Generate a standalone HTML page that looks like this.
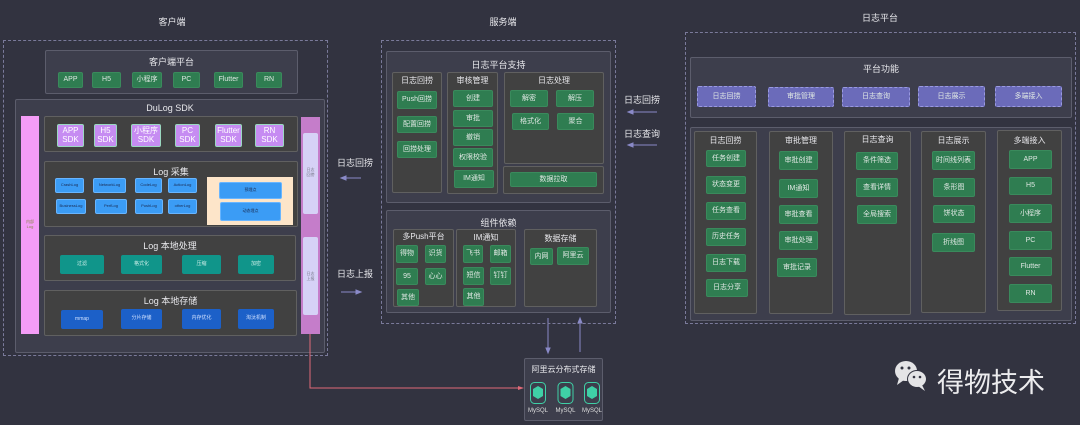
<!DOCTYPE html>
<html><head><meta charset="utf-8"><style>
*{margin:0;padding:0;box-sizing:border-box}
body{width:1080px;height:425px;background:#323340;position:relative;overflow:hidden;font-family:"Liberation Sans","Noto Sans CJK SC",sans-serif;color:#e8e8ec}
.a{position:absolute}
.d{position:absolute;border:1px dashed #7a7a9a}
.p{position:absolute;background:#3d3e4c;border:1px solid #5c5d6c;border-radius:2px}
.k{position:absolute;background:#414141;border:1px solid #606060;border-radius:2px}
.t{position:absolute;font-size:9px;text-align:center;white-space:nowrap}
.g,.s,.bl,.tl,.db,.pu{position:absolute;display:flex;align-items:center;justify-content:center;text-align:center;font-size:7px;color:#e0e8e4;border-radius:2px;line-height:1.1}
.g{background:#2f7d51;border:1px solid #3a8a5c}
.s{background:#c68cf2;border:1px solid #9ad8c0;font-size:8px;color:#fff}
.bl{background:#3b9cf5;border:1px solid #68b5ff;font-size:4px;color:#1a2a50}
.tl{background:#10958a;font-size:5px;color:#cceee8}
.db{background:#1c60c8;font-size:5px;color:#cfe0ff}
.pu{background:#6b6bba;border:1px dashed #9a9ae0;font-size:7px}
.h{font-size:8px}
</style></head><body>
<!-- titles -->
<div class="t" style="left:150px;top:15px;width:44px">客户端</div>
<div class="t" style="left:480px;top:15px;width:46px">服务端</div>
<div class="t" style="left:855px;top:11px;width:50px">日志平台</div>

<!-- client -->
<div class="d" style="left:3px;top:40px;width:325px;height:316px"></div>
<div class="p" style="left:45px;top:50px;width:253px;height:44px"></div>
<div class="t" style="left:45px;top:55px;width:253px">客户端平台</div>
<div class="g" style="left:58px;top:72px;width:25px;height:16px">APP</div>
<div class="g" style="left:92px;top:72px;width:29px;height:16px">H5</div>
<div class="g" style="left:132px;top:72px;width:30px;height:16px">小程序</div>
<div class="g" style="left:173px;top:72px;width:27px;height:16px">PC</div>
<div class="g" style="left:214px;top:72px;width:29px;height:16px">Flutter</div>
<div class="g" style="left:256px;top:72px;width:26px;height:16px">RN</div>

<div class="p" style="left:15px;top:99px;width:310px;height:254px"></div>
<div class="t" style="left:15px;top:103px;width:310px">DuLog SDK</div>
<div class="a" style="left:21px;top:116px;width:18px;height:218px;background:#f49cf6"></div>
<div class="t" style="left:21px;top:220px;width:18px;font-size:4px;color:#884;white-space:normal;line-height:1.2">内部<br>Log</div>
<div class="a" style="left:301px;top:117px;width:19px;height:217px;background:#c57dca"></div>
<div class="a" style="left:303px;top:133px;width:15px;height:81px;background:#d6d1f6;border-radius:2px"></div>
<div class="a" style="left:303px;top:237px;width:15px;height:78px;background:#d6d1f6;border-radius:2px"></div>
<div class="t" style="left:303px;top:167px;width:15px;font-size:4px;color:#778;line-height:1.3">日志<br>回捞</div>
<div class="t" style="left:303px;top:271px;width:15px;font-size:4px;color:#778;line-height:1.3">日志<br>上报</div>

<div class="k" style="left:44px;top:116px;width:254px;height:36px"></div>
<div class="s" style="left:57px;top:124px;width:27px;height:23px">APP<br>SDK</div>
<div class="s" style="left:94px;top:124px;width:23px;height:23px">H5<br>SDK</div>
<div class="s" style="left:131px;top:124px;width:30px;height:23px">小程序<br>SDK</div>
<div class="s" style="left:175px;top:124px;width:25px;height:23px">PC<br>SDK</div>
<div class="s" style="left:215px;top:124px;width:27px;height:23px">Flutter<br>SDK</div>
<div class="s" style="left:255px;top:124px;width:29px;height:23px">RN<br>SDK</div>

<div class="k" style="left:44px;top:161px;width:254px;height:66px"></div>
<div class="t" style="left:44px;top:165px;width:254px;font-size:9px">Log 采集</div>
<div class="bl" style="left:55px;top:178px;width:29px;height:15px">CrashLog</div>
<div class="bl" style="left:93px;top:178px;width:33px;height:15px">NetworkLog</div>
<div class="bl" style="left:135px;top:178px;width:27px;height:15px">CodeLog</div>
<div class="bl" style="left:168px;top:178px;width:29px;height:15px">ActionLog</div>
<div class="bl" style="left:56px;top:199px;width:30px;height:15px">BusinessLog</div>
<div class="bl" style="left:95px;top:199px;width:32px;height:15px">PerfLog</div>
<div class="bl" style="left:135px;top:199px;width:28px;height:15px">PushLog</div>
<div class="bl" style="left:168px;top:199px;width:29px;height:15px">otherLog</div>
<div class="a" style="left:207px;top:177px;width:86px;height:48px;background:#fde5c9"></div>
<div class="bl" style="left:219px;top:182px;width:63px;height:17px">预埋点</div>
<div class="bl" style="left:220px;top:202px;width:61px;height:19px">动态埋点</div>

<div class="k" style="left:44px;top:235px;width:252px;height:46px"></div>
<div class="t" style="left:44px;top:239px;width:252px">Log 本地处理</div>
<div class="tl" style="left:60px;top:255px;width:44px;height:19px">过滤</div>
<div class="tl" style="left:121px;top:255px;width:41px;height:19px">格式化</div>
<div class="tl" style="left:182px;top:255px;width:39px;height:19px">压缩</div>
<div class="tl" style="left:238px;top:255px;width:36px;height:19px">加密</div>

<div class="k" style="left:44px;top:290px;width:253px;height:46px"></div>
<div class="t" style="left:44px;top:294px;width:253px">Log 本地存储</div>
<div class="db" style="left:61px;top:310px;width:42px;height:19px">mmap</div>
<div class="db" style="left:121px;top:309px;width:41px;height:20px">分片存储</div>
<div class="db" style="left:182px;top:309px;width:39px;height:20px">内存优化</div>
<div class="db" style="left:238px;top:309px;width:36px;height:20px">淘汰机制</div>

<!-- middle arrows -->
<div class="t" style="left:336px;top:156px;width:38px">日志回捞</div>
<div class="t" style="left:336px;top:267px;width:38px">日志上报</div>
<div class="t" style="left:622px;top:93px;width:40px">日志回捞</div>
<div class="t" style="left:622px;top:127px;width:40px">日志查询</div>
<svg class="a" style="left:0;top:0" width="1080" height="425">
<g stroke="#8a8ac8" stroke-width="1" fill="#8a8ac8">
<line x1="343" y1="178" x2="361" y2="178"/><polygon points="341,178 346,176 346,180"/>
<line x1="341" y1="292" x2="358" y2="292"/><polygon points="361,292 356,290 356,294"/>
<line x1="630" y1="112" x2="657" y2="112"/><polygon points="628,112 633,110 633,114"/>
<line x1="630" y1="145" x2="657" y2="145"/><polygon points="628,145 633,143 633,147"/>
<line x1="548" y1="318" x2="548" y2="350"/><polygon points="548,353 546,348 550,348"/>
<line x1="580" y1="321" x2="580" y2="352"/><polygon points="580,318 578,323 582,323"/>
</g>
<polyline points="310,334 310,388 520,388" fill="none" stroke="#e06a78" stroke-width="1"/>
<polygon points="524,388 518,386 518,390" fill="#e06a78"/>
</svg>

<!-- server -->
<div class="d" style="left:381px;top:40px;width:235px;height:284px"></div>
<div class="p" style="left:386px;top:51px;width:225px;height:152px"></div>
<div class="t" style="left:386px;top:58px;width:225px">日志平台支持</div>
<div class="k" style="left:392px;top:72px;width:50px;height:121px"></div>
<div class="t h" style="left:392px;top:75px;width:50px">日志回捞</div>
<div class="g" style="left:397px;top:91px;width:40px;height:18px">Push回捞</div>
<div class="g" style="left:397px;top:116px;width:40px;height:17px">配置回捞</div>
<div class="g" style="left:397px;top:141px;width:40px;height:17px">回捞处理</div>
<div class="k" style="left:447px;top:72px;width:51px;height:122px"></div>
<div class="t h" style="left:447px;top:75px;width:51px">审核管理</div>
<div class="g" style="left:453px;top:90px;width:40px;height:17px">创建</div>
<div class="g" style="left:453px;top:110px;width:40px;height:17px">审批</div>
<div class="g" style="left:453px;top:129px;width:40px;height:17px">撤销</div>
<div class="g" style="left:453px;top:148px;width:40px;height:19px">权限校验</div>
<div class="g" style="left:454px;top:170px;width:40px;height:18px">IM通知</div>
<div class="k" style="left:504px;top:72px;width:100px;height:92px"></div>
<div class="t h" style="left:504px;top:75px;width:100px">日志处理</div>
<div class="g" style="left:510px;top:90px;width:38px;height:17px">解密</div>
<div class="g" style="left:556px;top:90px;width:38px;height:17px">解压</div>
<div class="g" style="left:512px;top:113px;width:37px;height:17px">格式化</div>
<div class="g" style="left:557px;top:113px;width:37px;height:17px">聚合</div>
<div class="k" style="left:503px;top:166px;width:101px;height:28px"></div>
<div class="g" style="left:510px;top:172px;width:87px;height:15px">数据拉取</div>

<div class="p" style="left:386px;top:210px;width:225px;height:103px"></div>
<div class="t" style="left:386px;top:216px;width:225px">组件依赖</div>
<div class="k" style="left:393px;top:229px;width:61px;height:78px"></div>
<div class="t h" style="left:393px;top:231px;width:61px">多Push平台</div>
<div class="g" style="left:396px;top:245px;width:22px;height:18px">得物</div>
<div class="g" style="left:425px;top:245px;width:21px;height:18px">识货</div>
<div class="g" style="left:396px;top:268px;width:22px;height:17px">95</div>
<div class="g" style="left:425px;top:268px;width:21px;height:17px">心心</div>
<div class="g" style="left:397px;top:289px;width:22px;height:17px">其他</div>
<div class="k" style="left:456px;top:229px;width:60px;height:78px"></div>
<div class="t h" style="left:456px;top:232px;width:60px">IM通知</div>
<div class="g" style="left:463px;top:245px;width:20px;height:18px">飞书</div>
<div class="g" style="left:490px;top:245px;width:21px;height:18px">邮箱</div>
<div class="g" style="left:463px;top:267px;width:21px;height:18px">短信</div>
<div class="g" style="left:490px;top:267px;width:21px;height:18px">钉钉</div>
<div class="g" style="left:463px;top:288px;width:21px;height:18px">其他</div>
<div class="k" style="left:524px;top:229px;width:73px;height:78px"></div>
<div class="t h" style="left:524px;top:233px;width:73px">数据存储</div>
<div class="g" style="left:530px;top:248px;width:23px;height:17px">内网</div>
<div class="g" style="left:557px;top:247px;width:32px;height:18px">阿里云</div>

<div class="p" style="left:524px;top:358px;width:79px;height:63px"></div>
<div class="t" style="left:524px;top:364px;width:79px;font-size:8px">阿里云分布式存储</div>
<svg class="a" style="left:524px;top:380px" width="79" height="40">
<g fill="none" stroke="#3fd0a6" stroke-width="1">
<rect x="6.5" y="2.5" width="15" height="21" rx="4"/>
<rect x="34" y="2.5" width="15" height="21" rx="4"/>
<rect x="60.5" y="2.5" width="15" height="21" rx="4"/></g>
<g fill="#3fd0a6"><path d="M9,9 l5,-3 l5,3 v7 l-5,3 l-5,-3z"/><path d="M36.5,9 l5,-3 l5,3 v7 l-5,3 l-5,-3z"/><path d="M63,9 l5,-3 l5,3 v7 l-5,3 l-5,-3z"/></g>
<g font-size="6" fill="#ddd" text-anchor="middle" font-family="Liberation Sans"><text x="14" y="32">MySQL</text><text x="41.5" y="32">MySQL</text><text x="68" y="32">MySQL</text></g>
</svg>

<!-- log platform -->
<div class="d" style="left:685px;top:32px;width:391px;height:292px"></div>
<div class="p" style="left:690px;top:57px;width:382px;height:61px"></div>
<div class="t" style="left:690px;top:62px;width:382px">平台功能</div>
<div class="pu" style="left:697px;top:86px;width:59px;height:21px">日志回捞</div>
<div class="pu" style="left:768px;top:87px;width:66px;height:20px">审批管理</div>
<div class="pu" style="left:842px;top:87px;width:68px;height:20px">日志查询</div>
<div class="pu" style="left:918px;top:86px;width:67px;height:21px">日志展示</div>
<div class="pu" style="left:995px;top:86px;width:67px;height:21px">多端接入</div>
<div class="p" style="left:690px;top:127px;width:382px;height:194px"></div>
<div class="k" style="left:694px;top:131px;width:63px;height:183px"></div>
<div class="k" style="left:769px;top:131px;width:64px;height:183px"></div>
<div class="k" style="left:844px;top:131px;width:67px;height:184px"></div>
<div class="k" style="left:921px;top:131px;width:65px;height:182px"></div>
<div class="k" style="left:997px;top:130px;width:65px;height:181px"></div>
<div class="t h" style="left:694px;top:135px;width:63px">日志回捞</div>
<div class="t h" style="left:769px;top:135px;width:64px">审批管理</div>
<div class="t h" style="left:844px;top:134px;width:67px">日志查询</div>
<div class="t h" style="left:921px;top:135px;width:65px">日志展示</div>
<div class="t h" style="left:997px;top:135px;width:65px">多端接入</div>
<div class="g" style="left:706px;top:150px;width:40px;height:17px">任务创建</div>
<div class="g" style="left:706px;top:176px;width:40px;height:18px">状态变更</div>
<div class="g" style="left:706px;top:202px;width:40px;height:18px">任务查看</div>
<div class="g" style="left:706px;top:228px;width:40px;height:18px">历史任务</div>
<div class="g" style="left:706px;top:254px;width:40px;height:18px">日志下载</div>
<div class="g" style="left:706px;top:279px;width:42px;height:18px">日志分享</div>
<div class="g" style="left:779px;top:151px;width:39px;height:19px">审批创建</div>
<div class="g" style="left:779px;top:179px;width:39px;height:19px">IM通知</div>
<div class="g" style="left:779px;top:205px;width:39px;height:19px">审批查看</div>
<div class="g" style="left:779px;top:231px;width:39px;height:19px">审批处理</div>
<div class="g" style="left:777px;top:258px;width:40px;height:19px">审批记录</div>
<div class="g" style="left:856px;top:152px;width:42px;height:18px">条件筛选</div>
<div class="g" style="left:856px;top:178px;width:42px;height:19px">查看详情</div>
<div class="g" style="left:857px;top:205px;width:40px;height:19px">全局搜索</div>
<div class="g" style="left:932px;top:151px;width:43px;height:19px">时间线列表</div>
<div class="g" style="left:933px;top:178px;width:42px;height:19px">条形图</div>
<div class="g" style="left:933px;top:205px;width:42px;height:18px">饼状态</div>
<div class="g" style="left:932px;top:233px;width:43px;height:19px">折线图</div>
<div class="g" style="left:1009px;top:150px;width:43px;height:19px">APP</div>
<div class="g" style="left:1009px;top:177px;width:43px;height:18px">H5</div>
<div class="g" style="left:1009px;top:204px;width:43px;height:19px">小程序</div>
<div class="g" style="left:1009px;top:231px;width:43px;height:19px">PC</div>
<div class="g" style="left:1009px;top:257px;width:43px;height:19px">Flutter</div>
<div class="g" style="left:1009px;top:284px;width:43px;height:19px">RN</div>

<!-- watermark -->
<svg class="a" style="left:893px;top:358px" width="40" height="36">
<ellipse cx="13" cy="13" rx="11" ry="10" fill="#e4e4e6"/>
<polygon points="6,20 4,27 11,22" fill="#e4e4e6"/>
<ellipse cx="24" cy="21" rx="10" ry="9" fill="#323340"/>
<ellipse cx="24" cy="21" rx="9" ry="8" fill="#e4e4e6"/>
<polygon points="29,27 32,33 25,28" fill="#e4e4e6"/>
<circle cx="9" cy="10" r="1.5" fill="#323340"/><circle cx="16" cy="10" r="1.5" fill="#323340"/>
<circle cx="21" cy="19" r="1.3" fill="#323340"/><circle cx="27" cy="19" r="1.3" fill="#323340"/>
</svg>
<div class="t" style="left:937px;top:361px;font-size:27px;color:#ececee">得物技术</div>
</body></html>
